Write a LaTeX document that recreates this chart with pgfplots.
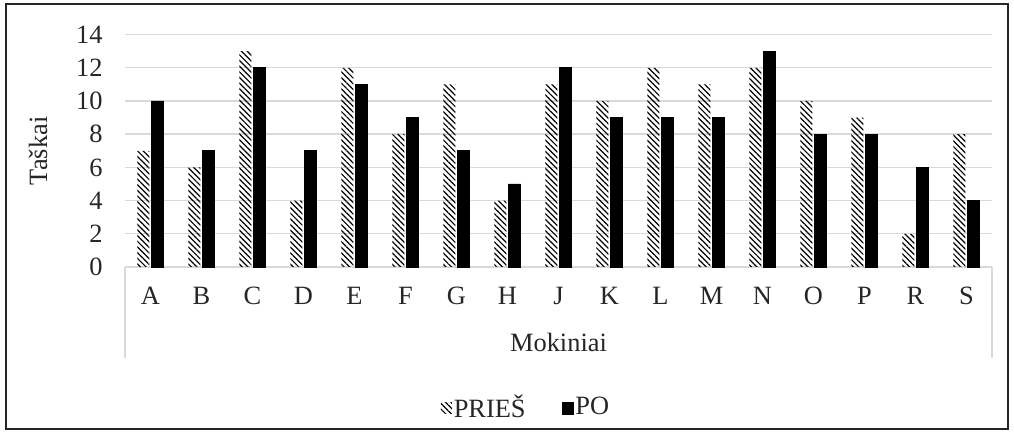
\documentclass[border=0pt]{standalone}
\usepackage{fontspec}
\setmainfont{Liberation Serif}
\usepackage{pgfplots}
\pgfplotsset{compat=1.18}
\usetikzlibrary{patterns.meta}
\definecolor{txt}{HTML}{262626}
\definecolor{gridc}{HTML}{D9D9D9}
\begin{document}
\begin{tikzpicture}[x=1pt,y=1pt]
\fontsize{13.2}{15}\selectfont
\path[use as bounding box] (0,0) rectangle (507,216);
\draw[black!85, line width=0.7pt] (3,1.5) rectangle (504,214);
\begin{axis}[
  at={(62.5pt,82.5pt)}, anchor=south west,
  scale only axis, width=433.5pt, height=116.2pt,
  ymin=0, ymax=14, ytick={0,2,...,14},
  xmin=-0.5, xmax=16.5,
  xtick={0,...,16},
  xticklabels={A,B,C,D,E,F,G,H,J,K,L,M,N,O,P,R,S},
  ybar=1pt, bar width=6pt,
  axis lines=left,
  axis line style={-},
  x axis line style={gridc, line width=0.7pt},
  y axis line style={draw=none},
  major tick length=0pt,
  ymajorgrids, grid style={gridc, line width=0.7pt},
  /pgf/number format/assume math mode=true,
  tick label style={font=\fontsize{13.2}{15}\selectfont, text=txt},
  yticklabel style={anchor=east, inner sep=0pt, xshift=-11pt},
  xticklabel style={anchor=base, inner sep=0pt, yshift=-19pt},
  xlabel={Mokiniai}, ylabel={Taškai},
  label style={font=\fontsize{13.2}{15}\selectfont, text=txt},
  xlabel style={at={(axis description cs:0.5,0)}, anchor=center, yshift=-37.5pt},
  ylabel style={at={(axis description cs:-0.1003,0.5)}, anchor=center},
  clip=false,
  legend style={at={(axis description cs:0.4625,-0.607)}, anchor=center,
    draw=none, fill=none, legend columns=-1, font=\fontsize{13.2}{15}\selectfont, text=txt,
    /tikz/every odd column/.append style={column sep=0pt},
    /tikz/every even column/.append style={column sep=17pt},
    nodes={inner sep=1pt}},
  legend cell align=left,
]
\addplot[draw=none, pattern={Lines[angle=-45,distance=2pt,line width=0.6pt]}, pattern color=black,
  legend image code/.code={\fill[pattern={Lines[angle=-45,distance=2pt,line width=0.6pt]}, pattern color=black] (0pt,-2.8pt) rectangle (5.5pt,2.8pt);}]
  coordinates {(0,7) (1,6) (2,13) (3,4) (4,12) (5,8) (6,11) (7,4) (8,11) (9,10) (10,12) (11,11) (12,12) (13,10) (14,9) (15,2) (16,8)};
\addlegendentry{PRIEŠ}
\addplot[draw=black, fill=black,
  legend image code/.code={\fill[black] (0pt,-3pt) rectangle (5.5pt,3pt);}]
  coordinates {(0,10) (1,7) (2,12) (3,7) (4,11) (5,9) (6,7) (7,5) (8,12) (9,9) (10,9) (11,9) (12,13) (13,8) (14,8) (15,6) (16,4)};
\addlegendentry{PO}
\draw[gridc, line width=0.7pt] (rel axis cs:0,0) -- ([yshift=-45.5pt]rel axis cs:0,0);
\draw[gridc, line width=0.7pt] (rel axis cs:1,0) -- ([yshift=-45.5pt]rel axis cs:1,0);
\end{axis}
\end{tikzpicture}
\end{document}
